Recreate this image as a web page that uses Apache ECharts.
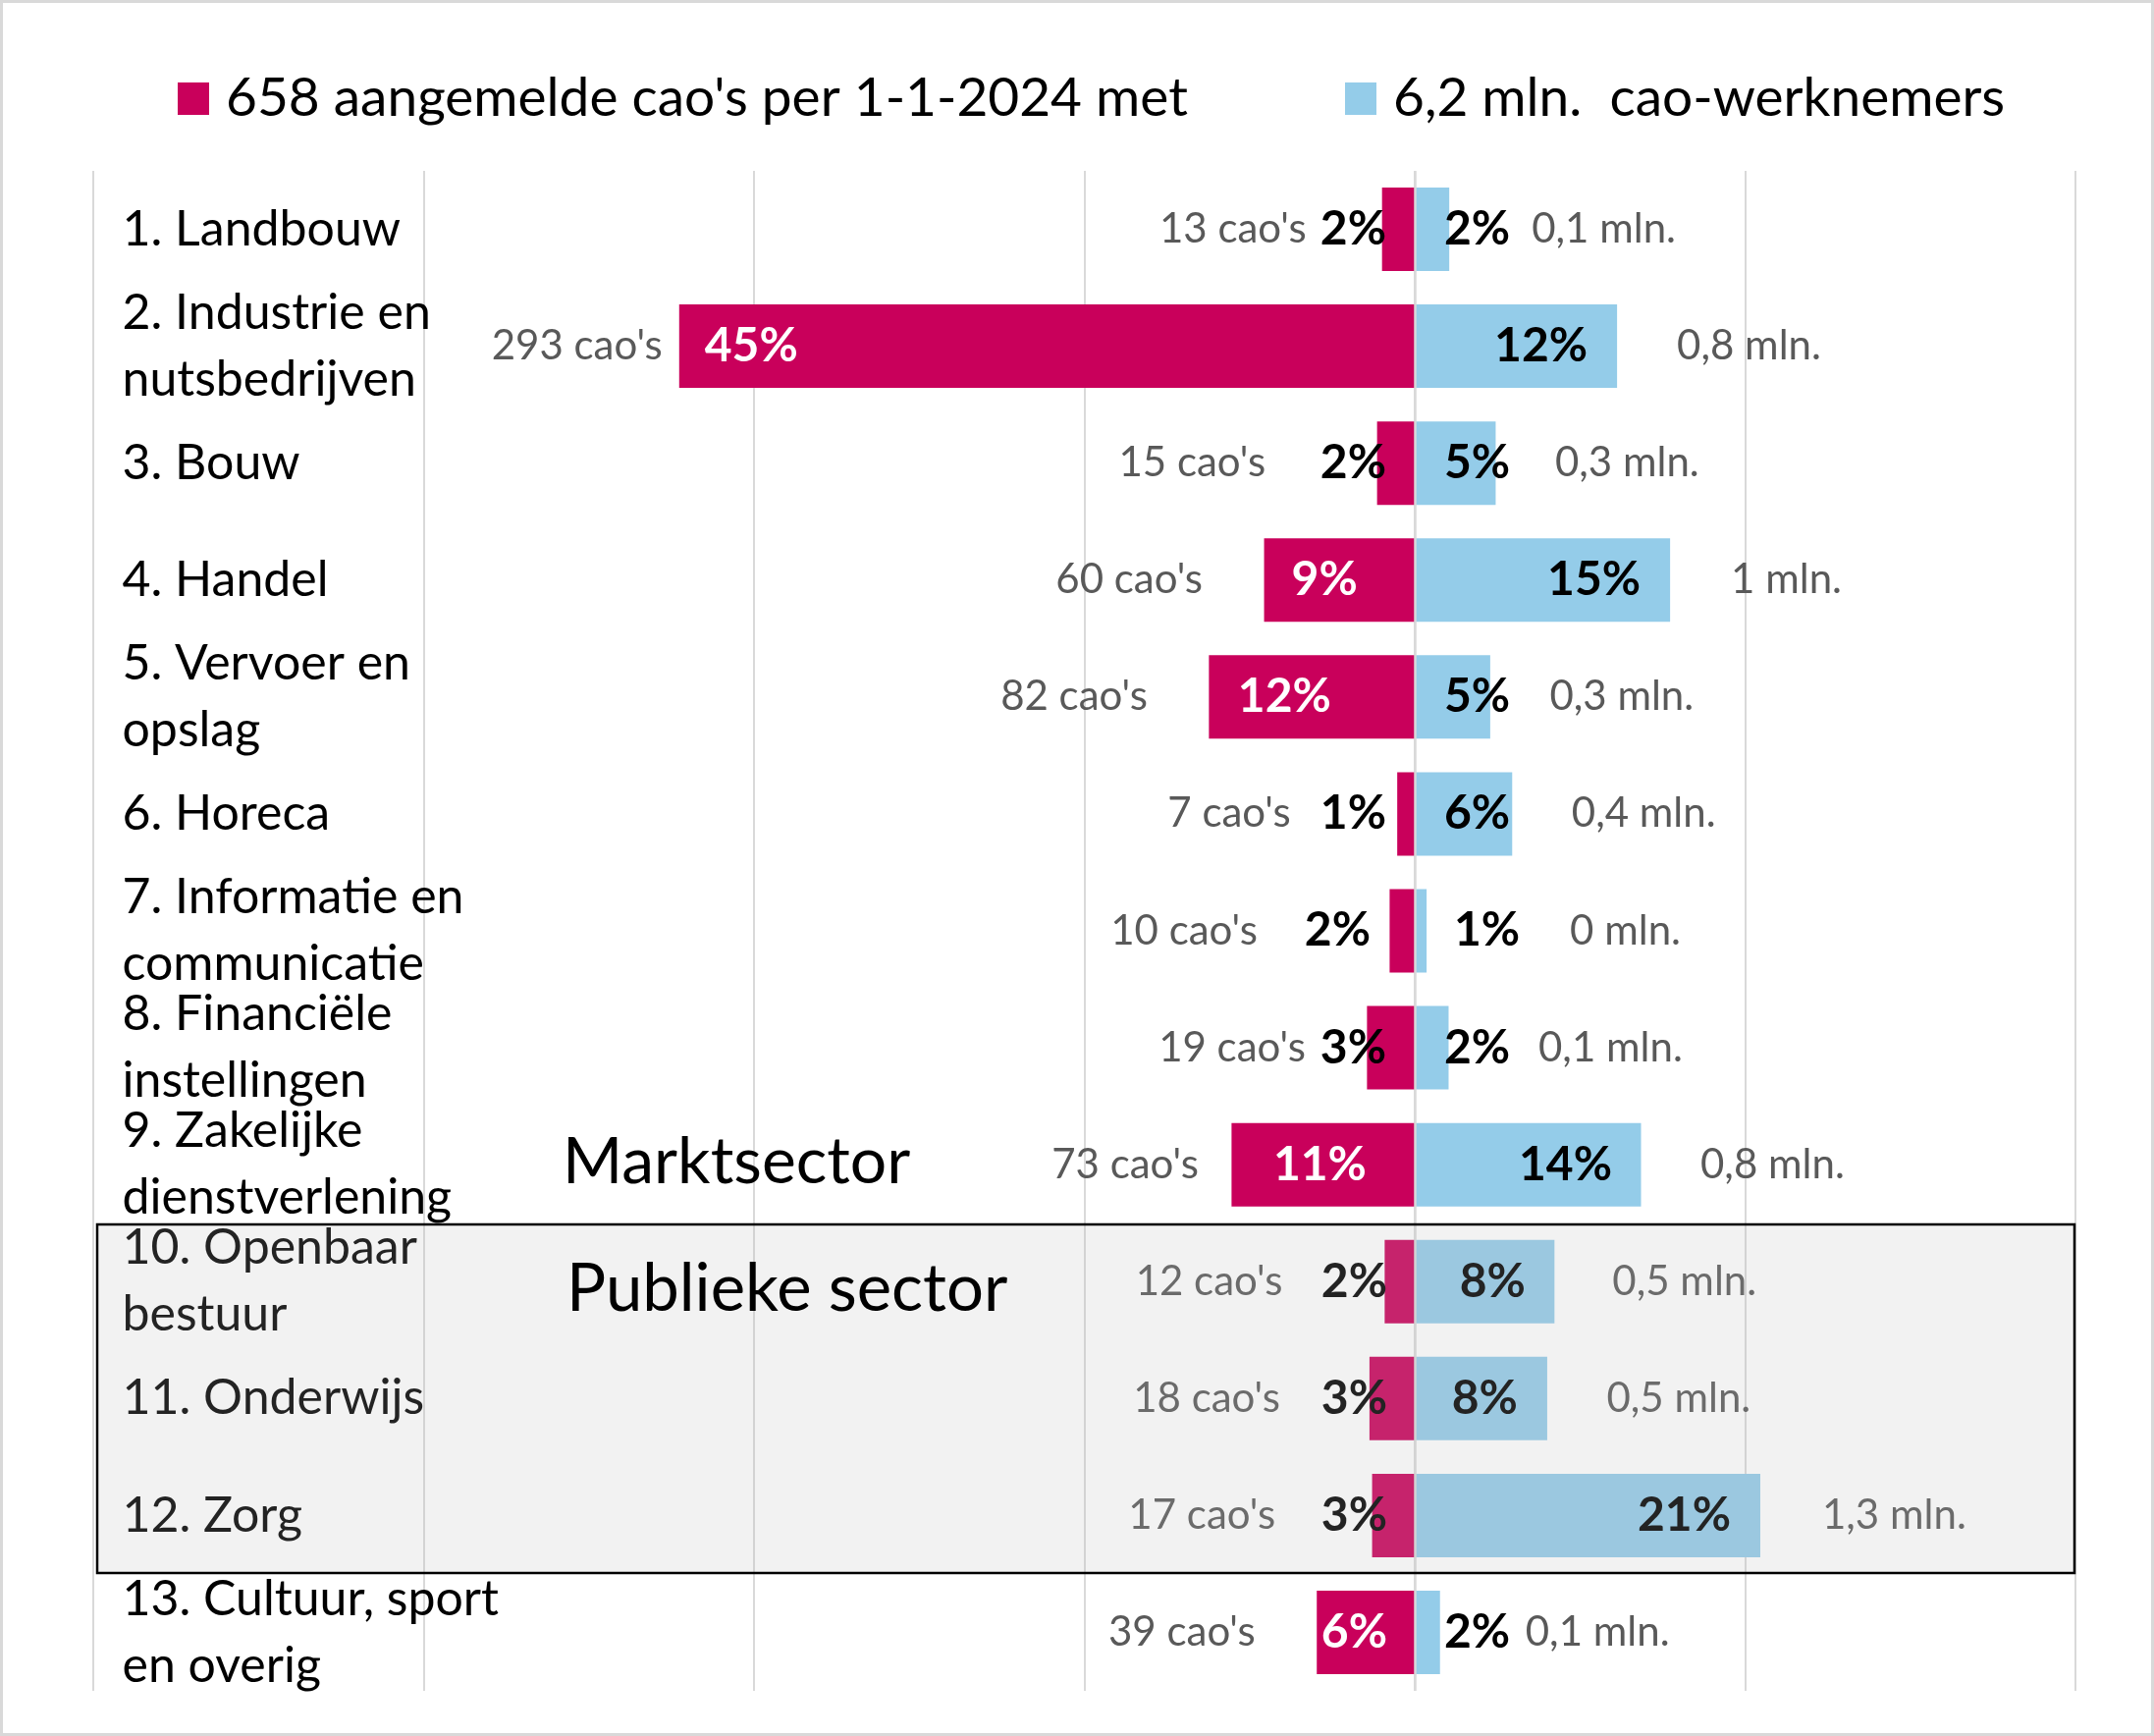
<!DOCTYPE html>
<html><head><meta charset="utf-8">
<script src="https://cdn.jsdelivr.net/npm/echarts@6/dist/echarts.min.js"></script>
<style>html,body{margin:0;padding:0;background:#fff}#c{width:2194px;height:1768px}</style>
</head><body><div id="c"></div>
<script>
// ---------- data ----------
const categories = ['1. Landbouw', '2. Industrie en\nnutsbedrijven', '3. Bouw', '4. Handel',
  '5. Vervoer en\nopslag', '6. Horeca', '7. Informatie en\ncommunicatie', '8. Financiële\ninstellingen',
  '9. Zakelijke\ndienstverlening', '10. Openbaar\nbestuur', '11. Onderwijs', '12. Zorg',
  '13. Cultuur, sport\nen overig'];
const caoCounts = [13, 293, 15, 60, 82, 7, 10, 19, 73, 12, 18, 17, 39];
const caoSharePct = [1.98, 44.53, 2.28, 9.12, 12.46, 1.06, 1.52, 2.89, 11.09, 1.82, 2.74, 2.58, 5.93];
const caoShareLabels = ['2%', '45%', '2%', '9%', '12%', '1%', '2%', '3%', '11%', '2%', '3%', '3%', '6%'];
const workerSharePct = [2.09, 12.25, 4.90, 15.46, 4.57, 5.90, 0.72, 2.05, 13.70, 8.46, 8.02, 20.92, 1.53];
const workerShareLabels = ['2%', '12%', '5%', '15%', '5%', '6%', '1%', '2%', '14%', '8%', '8%', '21%', '2%'];
const workerMln = ['0,1', '0,8', '0,3', '1', '0,3', '0,4', '0', '0,1', '0,8', '0,5', '0,5', '1,3', '0,1'];
const nameCao = "658 aangemelde cao's per 1-1-2024 met";
const nameWorkers = '6,2 mln.  cao-werknemers';
const xTicks = { min: -80, max: 40, interval: 20 };

// ---------- label layout (style only) ----------
const pinkPctLayout = [['insideRight',29,'#000'],['insideLeft',26,'#fff'],['insideRight',29,'#000'],
  ['insideLeft',28,'#fff'],['insideLeft',29.5,'#fff'],['insideRight',29,'#000'],['insideRight',45,'#000'],
  ['insideRight',29,'#000'],['insideLeft',42.5,'#fff'],['insideRight',28,'#000'],['insideRight',28,'#000'],
  ['insideRight',28,'#000'],['insideRight',28,'#fff']];
const caoTextDist = [77, 17, 113.5, 62.5, 62.5, 108.5, 134.5, 62.5, 33.5, 104, 91, 98.5, 62.5];
const bluePctLayout = [['insideLeft',30],['insideRight',30],['insideLeft',30],['insideRight',30],
  ['insideLeft',30],['insideLeft',30],['insideLeft',40],['insideLeft',30],['insideRight',29.5],
  ['insideRight',29.5],['insideRight',30],['insideRight',30],['insideLeft',30]];
const mlnTextDist = [84, 61, 60.5, 62, 60.5, 60.5, 146, 91.5, 60.5, 59, 60.5, 63, 87];

const FONT = 'Lato';
const PINK = '#C9005B', BLUE = '#94CCE9', GREY = '#595959';
const BAR_W = 85;

const chart = echarts.init(document.getElementById('c'), null, { renderer: 'canvas' });

const pctLabelBase = { show: true, fontFamily: FONT, fontWeight: 'bold', fontSize: 48, padding: [8, 0, 0, 0] };
const greyLabelBase = { show: true, fontFamily: FONT, fontSize: 42, color: GREY, padding: [7, 0, 0, 0] };

const legendText = { fontFamily: FONT, fontSize: 55, color: '#000', padding: [0, 0, 0, 12] };

const option = {
  animation: false,
  backgroundColor: '#fff',
  grid: { left: 95, right: 80, top: 174, bottom: 46, containLabel: false },
  legend: [
    { data: [nameCao], left: 181, top: 73, padding: 0, icon: 'rect', itemWidth: 32, itemHeight: 33,
      selectedMode: false, textStyle: legendText },
    { data: [nameWorkers], left: 1370, top: 73, padding: 0, icon: 'rect', itemWidth: 32, itemHeight: 33,
      selectedMode: false, textStyle: legendText }
  ],
  xAxis: {
    type: 'value', min: xTicks.min, max: xTicks.max, interval: xTicks.interval,
    axisLabel: { show: false }, axisLine: { show: false }, axisTick: { show: false },
    splitLine: { show: true, lineStyle: { color: '#D9D9D9', width: 2 } }
  },
  yAxis: {
    type: 'category', inverse: true, data: categories,
    axisLine: { show: false }, axisTick: { show: false }, splitLine: { show: false },
    axisLabel: { inside: true, margin: 29.5, align: 'left', fontFamily: FONT, fontSize: 50,
      lineHeight: 68, color: '#000', padding: [7, 0, 0, 0] }
  },
  series: [
    {
      name: nameCao, type: 'bar', barWidth: BAR_W, barGap: '-100%', itemStyle: { color: PINK },
      data: caoSharePct.map((v, i) => ({
        value: -v,
        label: Object.assign({}, pctLabelBase, { position: pinkPctLayout[i][0], distance: pinkPctLayout[i][1],
          color: pinkPctLayout[i][2], formatter: () => caoShareLabels[i] })
      }))
    },
    {
      name: nameWorkers, type: 'bar', barWidth: BAR_W, barGap: '-100%', itemStyle: { color: BLUE },
      data: workerSharePct.map((v, i) => ({
        value: v,
        label: Object.assign({}, pctLabelBase, { position: bluePctLayout[i][0], distance: bluePctLayout[i][1],
          color: '#000', formatter: () => workerShareLabels[i] })
      })),
      markLine: { silent: true, symbol: 'none', label: { show: false },
        lineStyle: { color: '#D9D9D9', width: 2.5, type: 'solid' }, data: [{ xAxis: 0 }] }
    },
    {
      name: 'caoCountLabels', type: 'bar', barWidth: BAR_W, barGap: '-100%', silent: true,
      itemStyle: { color: 'rgba(0,0,0,0)' },
      data: caoSharePct.map((v, i) => ({
        value: -v,
        label: Object.assign({}, greyLabelBase, { position: 'left', distance: caoTextDist[i],
          formatter: () => caoCounts[i] + " cao's" })
      }))
    },
    {
      name: 'mlnLabels', type: 'bar', barWidth: BAR_W, barGap: '-100%', silent: true,
      itemStyle: { color: 'rgba(0,0,0,0)' },
      data: workerSharePct.map((v, i) => ({
        value: v,
        label: Object.assign({}, greyLabelBase, { position: 'right', distance: mlnTextDist[i],
          formatter: () => workerMln[i] + ' mln.' })
      }))
    }
  ],
  graphic: [
    { type: 'text', x: 573, y: 1184, z: 50,
      style: { text: 'Marktsector', font: '66px Lato', fill: '#000', verticalAlign: 'middle' } },
    { type: 'rect', z: 100, silent: true,
      shape: { x: 99, y: 1247, width: 2014, height: 355 },
      style: { fill: 'rgba(186,186,186,0.19)', stroke: '#000', lineWidth: 2.5 } },
    { type: 'text', x: 577, y: 1313, z: 101,
      style: { text: 'Publieke sector', font: '67px Lato', fill: '#000', verticalAlign: 'middle' } },
    { type: 'rect', z: 100, silent: true,
      shape: { x: 1.5, y: 1.5, width: 2191, height: 1765 },
      style: { fill: 'none', stroke: '#D9D9D9', lineWidth: 3 } }
  ]
};
chart.setOption(option);
</script></body></html>
